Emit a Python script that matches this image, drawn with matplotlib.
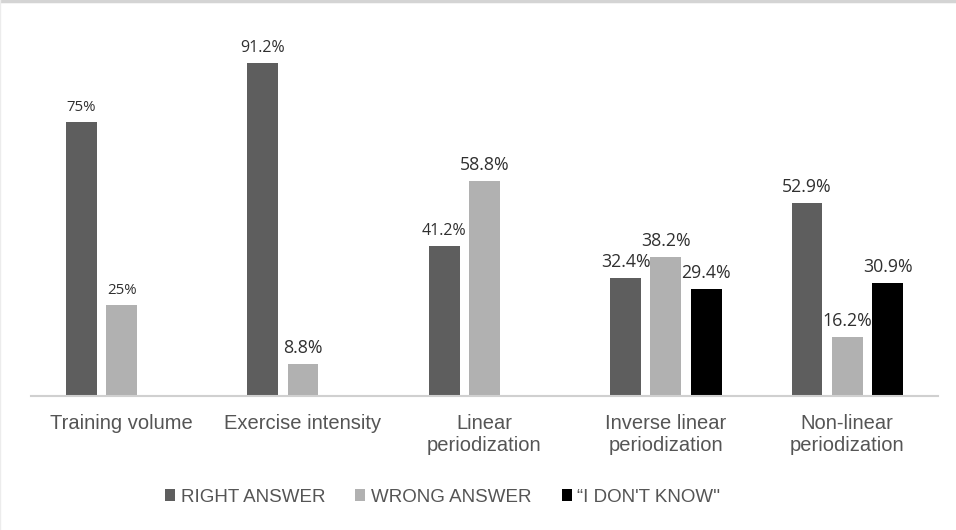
import numpy as np
import matplotlib.pyplot as plt
from matplotlib.lines import Line2D

# data
categories = ['Training volume', 'Exercise intensity', 'Linear\nperiodization',
              'Inverse linear\nperiodization', 'Non-linear\nperiodization']
right_answer = [75, 91.2, 41.2, 32.4, 52.9]
wrong_answer = [25, 8.8, 58.8, 38.2, 16.2]
dont_know = [None, None, None, 29.4, 30.9]
right_labels = ['75%', '91.2%', '41.2%', '32.4%', '52.9%']
wrong_labels = ['25%', '8.8%', '58.8%', '38.2%', '16.2%']
dont_know_labels = ['', '', '', '29.4%', '30.9%']
legend_labels = ['RIGHT ANSWER', 'WRONG ANSWER', '\u201cI DON\'T KNOW\'\'']

colors = ['#5e5e5e', '#b1b1b1', '#000000']

fig = plt.figure(figsize=(9.56, 5.30), dpi=100)
ax = fig.add_axes([0.0324, 0.2528, 0.9487, 0.7472])

# grey line along the top and a faint one on the left, like the source image
fig.add_artist(Line2D([0, 1], [0.998, 0.998], transform=fig.transFigure,
                      color='#d4d4d4', linewidth=2.5))
fig.add_artist(Line2D([0.0005, 0.0005], [0, 1], transform=fig.transFigure,
                      color='#ececec', linewidth=1))

x = np.arange(len(categories))
width = 0.17
step = 0.222

series = [right_answer, wrong_answer, dont_know]
labels = [right_labels, wrong_labels, dont_know_labels]
# label sizes differ a little in the source
label_size = {(0, 0): 10.8, (1, 0): 10.8, (0, 1): 11.5, (0, 2): 11.5}

for s, (vals, labs) in enumerate(zip(series, labels)):
    xs = []
    hs = []
    for i, v in enumerate(vals):
        if v is None:
            continue
        xs.append(x[i] + (s - 1) * step)
        hs.append(v)
    ax.bar(xs, hs, width=width, color=colors[s], label=legend_labels[s])
    for i, v in enumerate(vals):
        if v is None:
            continue
        size = label_size.get((s, i), 12.8)
        ax.annotate(labs[i], (x[i] + (s - 1) * step, v), xytext=(0, 5),
                    textcoords='offset points', ha='center', va='bottom',
                    fontsize=size, color='#303030', family='Open Sans')

ax.set_xlim(-0.5, len(categories) - 0.5)
ax.set_ylim(0, 108.5)
ax.set_yticks([])
ax.set_xticks(x)
ax.set_xticklabels(categories, fontsize=14.5, color='#555555',
                   family=['Liberation Sans Narrow', 'Liberation Sans'],
                   linespacing=1.2)
ax.tick_params(axis='x', length=0, pad=13)
for side in ['top', 'right', 'left']:
    ax.spines[side].set_visible(False)
ax.spines['bottom'].set_color('#d0d0d0')
ax.spines['bottom'].set_linewidth(1.5)

leg = fig.legend(loc='center', bbox_to_anchor=(0.463, 0.062), ncol=3, frameon=False,
                 handlelength=0.55, handleheight=0.55, handletextpad=0.3,
                 columnspacing=1.6,
                 prop={'family': ['Liberation Sans Narrow', 'Liberation Sans'], 'size': 13.5})
for t in leg.get_texts():
    t.set_color('#555555')

fig.savefig('out.png', dpi=100)
